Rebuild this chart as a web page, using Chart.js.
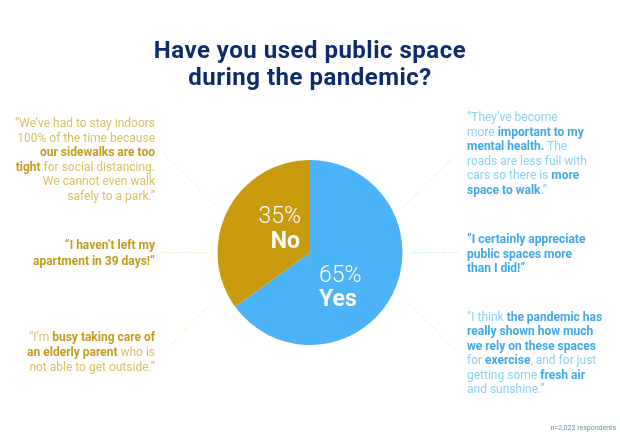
<!DOCTYPE html>
<html>
<head>
<meta charset="utf-8">
<script src="https://cdn.jsdelivr.net/npm/chart.js@4/dist/chart.umd.min.js"></script>
<style>
  html, body { margin: 0; padding: 0; background: #ffffff; }
  #wrap { position: relative; width: 620px; height: 434px; overflow: hidden; font-family: Roboto, "Noto Sans", sans-serif; }
  #chart { position: absolute; left: 0; top: 0; }
  .t { position: absolute; white-space: nowrap; }
  #title { left: 0; width: 620px; top: 37px; text-align: center; color: #0c2c6e; font-weight: 700; font-size: 24px; line-height: 27px; letter-spacing: 0.5px; }
  .q { font-size: 12px; }
  .gl { color: #d8c064; }
  .gb { color: #c39a1c; font-weight: 700; }
  .bl { color: #88d2f1; }
  .bb { color: #40a8e8; font-weight: 700; }
  .left { right: 465px; text-align: right; }
  .right { left: 467px; text-align: left; }
  #foot { right: 4px; top: 424px; font-size: 7px; color: #5e9ea3; }
</style>
</head>
<body>
<div id="wrap">
  <canvas id="chart" width="620" height="434"></canvas>
  <div id="title" class="t">Have you used public space<br>during the pandemic?</div>

  <div class="t q left gl" style="top:116px; line-height:14.5px;">“We’ve had to stay indoors<br>100% of the time because<br><span class="gb">our sidewalks are too</span><br><span class="gb">tight</span> for social distancing.<br>We cannot even walk<br>safely to a park.”</div>
  <div class="t q left gb" style="top:237px; line-height:16px;">“I haven’t left my<br>apartment in 39 days!”</div>
  <div class="t q left gl" style="top:330px; line-height:15px;">“I’m <span class="gb">busy taking care of</span><br><span class="gb">an elderly parent</span> who is<br>not able to get outside.”</div>

  <div class="t q right bl" style="top:110px; line-height:14.6px;">“They’ve become<br>more <span class="bb">important to my</span><br><span class="bb">mental health.</span> The<br>roads are less full with<br>cars so there is <span class="bb">more</span><br><span class="bb">space to walk</span>.”</div>
  <div class="t q right bb" style="top:232px; line-height:14.5px;">“I certainly appreciate<br>public spaces more<br>than I did!”</div>
  <div class="t q right bl" style="top:310px; line-height:14.4px;">“I think <span class="bb">the pandemic has</span><br><span class="bb">really shown how much</span><br><span class="bb">we rely on these spaces</span><br>for <span class="bb">exercise</span>, and for just<br>getting some <span class="bb">fresh air</span><br>and sunshine.”</div>

  <div id="foot" class="t">n=2,023 respondents</div>
</div>
<script>
const categories = ["Yes", "No"];
const percentages = [65, 35];
const sliceColors = ["#4db3f9", "#c99a0c"];

const pieLabels = {
  id: "pieLabels",
  afterDatasetsDraw(chart) {
    const ctx = chart.ctx;
    const meta = chart.getDatasetMeta(0);
    const arc = meta.data[0];
    const cx = arc.x, cy = arc.y;
    ctx.save();
    ctx.fillStyle = "#ffffff";
    ctx.textBaseline = "alphabetic";
    // No (index 1)
    ctx.textAlign = "right";
    ctx.font = "300 23px Roboto";
    ctx.fillText(percentages[1] + "%", cx - 9, cy - 30);
    ctx.font = "700 23px Roboto";
    ctx.fillText(categories[1], cx - 10, cy - 5);
    // Yes (index 0)
    ctx.textAlign = "left";
    ctx.font = "300 23px Roboto";
    ctx.fillText(percentages[0] + "%", cx + 9, cy + 29);
    ctx.font = "700 23px Roboto";
    ctx.fillText(categories[0], cx + 9, cy + 53);
    ctx.restore();
  }
};

const connectors = {
  id: "connectors",
  beforeDatasetsDraw(chart) {
    const ctx = chart.ctx;
    const arc = chart.getDatasetMeta(0).data[0];
    const cx = arc.x, cy = arc.y;
    const segs = [
      [[-147, -99], [-92, -45], "#dcdca4"],
      [[-148, 0], [-102, 0], "#dcdca4"],
      [[-147, 100], [-93, 45], "#dcdca4"],
      [[93, -45], [148, -100], "#a6e0e6"],
      [[102, 0], [148, 0], "#a6e0e6"],
      [[93, 45], [148, 100], "#a6e0e6"]
    ];
    ctx.save();
    ctx.lineWidth = 1;
    ctx.setLineDash([1, 2]);
    segs.forEach(s => {
      ctx.strokeStyle = s[2];
      ctx.beginPath();
      ctx.moveTo(cx + s[0][0], cy + s[0][1]);
      ctx.lineTo(cx + s[1][0], cy + s[1][1]);
      ctx.stroke();
    });
    ctx.restore();
  }
};

new Chart(document.getElementById("chart"), {
  type: "pie",
  data: {
    labels: categories,
    datasets: [{
      data: percentages,
      backgroundColor: sliceColors,
      borderWidth: 0
    }]
  },
  options: {
    responsive: false,
    animation: false,
    layout: { padding: { top: 160, bottom: 89, left: 217, right: 217 } },
    plugins: {
      legend: { display: false },
      tooltip: { enabled: false },
      title: { display: false }
    }
  },
  plugins: [connectors, pieLabels]
});
</script>
</body>
</html>
